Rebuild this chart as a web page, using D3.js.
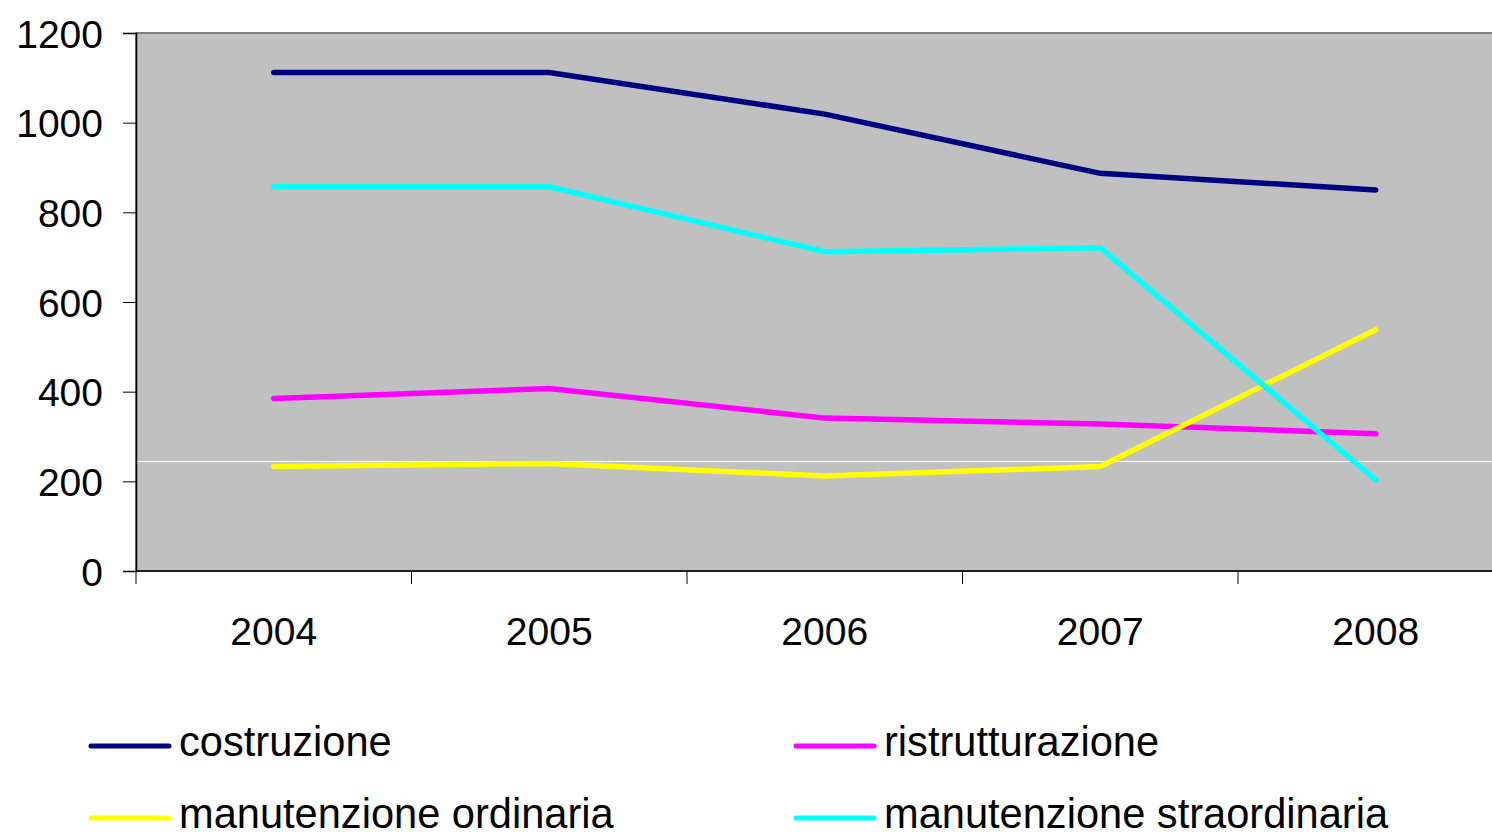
<!DOCTYPE html>
<html>
<head>
<meta charset="utf-8">
<script src="https://cdn.jsdelivr.net/npm/d3@7"></script>
<style>
  body { margin: 0; background: #fff; }
  svg { display: block; font-family: "Liberation Sans", Arial, sans-serif; }
</style>
</head>
<body>
<div id="chart"></div>
<script>
// data
const years = ["2004", "2005", "2006", "2007", "2008"];
const costruzione = [1112, 1112, 1019, 887, 850];
const ristrutturazione = [385, 407, 341, 328, 306];
const manutenzioneOrdinaria = [233, 240, 212, 233, 538];
const manutenzioneStraordinaria = [857, 857, 712, 721, 203];
const yTicks = [0, 200, 400, 600, 800, 1000, 1200];
const whiteLineValue = 245; // stray white line in the plot area

const series = [
  { name: "costruzione", values: costruzione, color: "#000080" },
  { name: "ristrutturazione", values: ristrutturazione, color: "#FF00FF" },
  { name: "manutenzione ordinaria", values: manutenzioneOrdinaria, color: "#FFFF00" },
  { name: "manutenzione straordinaria", values: manutenzioneStraordinaria, color: "#00FFFF" }
];

const W = 1492, H = 832;
const margin = { top: 33, left: 136 };
const plotW = 1377.5; // runs past the right edge of the window
const plotH = 538;

const svg = d3.select("#chart").append("svg")
  .attr("width", W)
  .attr("height", H);

const g = svg.append("g")
  .attr("transform", `translate(${margin.left},${margin.top})`);

const x = d3.scaleBand().domain(years).range([0, plotW]);
const y = d3.scaleLinear().domain([0, 1200]).range([plotH, 0]);

// plot background
g.append("rect")
  .attr("x", 0).attr("y", 0)
  .attr("width", plotW).attr("height", plotH)
  .attr("fill", "#C0C0C0")
  .attr("stroke", "#808080")
  .attr("stroke-width", 2);

// white line
g.append("line")
  .attr("x1", 0).attr("x2", plotW)
  .attr("y1", Math.round(y(whiteLineValue)) + 0.5)
  .attr("y2", Math.round(y(whiteLineValue)) + 0.5)
  .attr("stroke", "#fff")
  .attr("stroke-width", 1);

// y axis
const yAxis = g.append("g")
  .call(d3.axisLeft(y).tickValues(yTicks).tickSize(13).tickPadding(20).tickFormat(d3.format("d")));
yAxis.select(".domain").attr("stroke", "#000").attr("stroke-width", 1.5);
yAxis.selectAll(".tick line").attr("stroke", "#000");
yAxis.selectAll("text")
  .attr("font-size", 39)
  .attr("fill", "#000")
  .attr("dy", "0.36em")
  .style("font-family", "'Liberation Sans', Arial, sans-serif");

// x axis: ticks on band boundaries, labels in band centres
const xAxis = g.append("g").attr("transform", `translate(0,${plotH})`);
xAxis.append("line")
  .attr("x1", 0).attr("x2", plotW)
  .attr("y1", 0).attr("y2", 0)
  .attr("stroke", "#000").attr("stroke-width", 1.5);
xAxis.selectAll("line.tick")
  .data(years)
  .enter().append("line")
  .attr("class", "tick")
  .attr("x1", d => x(d)).attr("x2", d => x(d))
  .attr("y1", 0).attr("y2", 13)
  .attr("stroke", "#000");
xAxis.selectAll("text")
  .data(years)
  .enter().append("text")
  .attr("x", d => x(d) + x.bandwidth() / 2)
  .attr("y", 74)
  .attr("text-anchor", "middle")
  .attr("font-size", 39)
  .text(d => d);

// lines
const line = d3.line()
  .x((d, i) => x(years[i]) + x.bandwidth() / 2)
  .y(d => y(d));

g.selectAll("path.series")
  .data(series)
  .enter().append("path")
  .attr("class", "series")
  .attr("fill", "none")
  .attr("stroke", d => d.color)
  .attr("stroke-width", 5.5)
  .attr("stroke-linecap", "round")
  .attr("stroke-linejoin", "miter")
  .attr("d", d => line(d.values));

// legend
const legend = svg.append("g");
const legendItems = legend.selectAll("g")
  .data(series)
  .enter().append("g")
  .attr("transform", (d, i) => `translate(${i % 2 === 0 ? 91 : 796},${i < 2 ? 746 : 818})`);

legendItems.append("line")
  .attr("x1", 0).attr("x2", 78)
  .attr("y1", 0).attr("y2", 0)
  .attr("stroke", d => d.color)
  .attr("stroke-width", 5)
  .attr("stroke-linecap", "round");

legendItems.append("text")
  .attr("x", 88)
  .attr("y", 10)
  .attr("font-size", 41.6)
  .attr("fill", "#000")
  .text(d => d.name);
</script>
</body>
</html>
